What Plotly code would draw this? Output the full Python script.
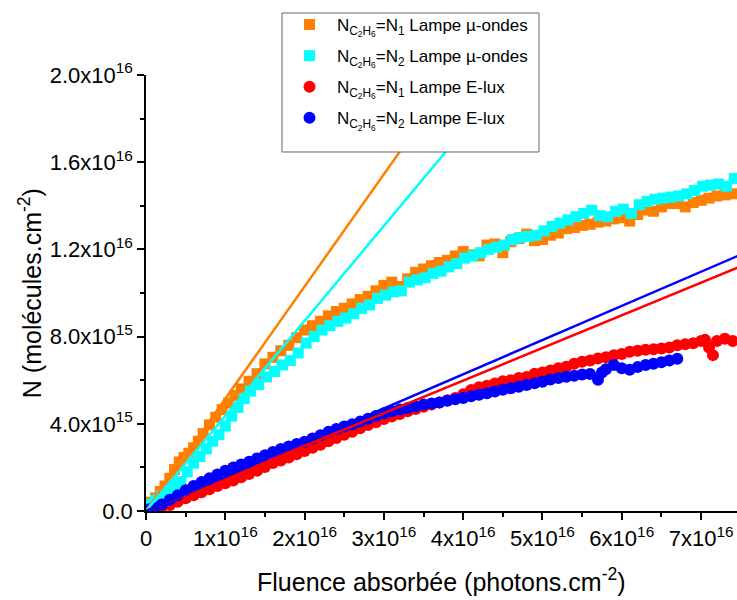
import plotly.graph_objects as go

X_UNIT = 1e16
Y_UNIT = 1e15

# Lampe micro-ondes, N_C2H6 = N1 (orange squares)
mw_n1_x = [0.00, 0.06, 0.12, 0.18, 0.24, 0.30, 0.36, 0.42, 0.48, 0.54, 0.60, 0.66, 0.72, 0.80, 0.88,
           0.96, 1.04, 1.12, 1.20, 1.30, 1.40, 1.50, 1.60, 1.70, 1.80, 1.90, 2.00, 2.10, 2.20, 2.30,
           2.40, 2.50, 2.60, 2.70, 2.80, 2.90, 3.00, 3.10, 3.20, 3.30, 3.40, 3.50, 3.60, 3.70, 3.80,
           3.90, 4.00, 4.10, 4.20, 4.30, 4.40, 4.50, 4.60, 4.70, 4.80, 4.90, 5.00, 5.10, 5.20, 5.30,
           5.40, 5.50, 5.60, 5.70, 5.80, 5.90, 6.00, 6.10, 6.20, 6.30, 6.40, 6.50, 6.60, 6.70, 6.80,
           6.90, 7.00, 7.10, 7.20, 7.30, 7.40]
mw_n1_y = [0.15, 0.40, 0.60, 0.90, 1.15, 1.50, 1.90, 2.25, 2.45, 2.65, 2.90, 3.20, 3.55, 3.95, 4.30,
           4.65, 4.95, 5.30, 5.60, 5.95, 6.30, 6.75, 7.05, 7.35, 7.60, 7.95, 8.30, 8.50, 8.70, 8.95,
           9.15, 9.30, 9.50, 9.70, 9.85, 10.10, 10.35, 10.50, 10.30, 10.65, 10.95, 11.10, 11.25, 11.40, 11.50,
           11.70, 11.90, 11.75, 11.70, 12.20, 12.25, 11.85, 12.35, 12.50, 12.70, 12.40, 12.45, 12.65, 12.75, 12.95,
           13.00, 13.10, 13.15, 13.25, 13.30, 13.40, 13.45, 13.30, 13.60, 13.80, 13.75, 13.95, 14.10, 14.10, 13.95,
           14.15, 14.25, 14.35, 14.45, 14.50, 14.55]

# Lampe micro-ondes, N_C2H6 = N2 (cyan squares)
mw_n2_x = [0.00, 0.06, 0.12, 0.20, 0.28, 0.36, 0.44, 0.52, 0.60, 0.68, 0.76, 0.84, 0.92, 1.00, 1.08,
           1.16, 1.24, 1.32, 1.42, 1.52, 1.62, 1.72, 1.82, 1.92, 2.02, 2.12, 2.22, 2.32, 2.42, 2.52,
           2.62, 2.72, 2.82, 2.92, 3.02, 3.12, 3.22, 3.32, 3.42, 3.52, 3.62, 3.72, 3.82, 3.92, 4.02,
           4.12, 4.22, 4.32, 4.42, 4.52, 4.62, 4.72, 4.82, 4.92, 5.02, 5.12, 5.22, 5.32, 5.42, 5.52,
           5.62, 5.72, 5.82, 5.92, 6.02, 6.12, 6.22, 6.32, 6.42, 6.52, 6.62, 6.72, 6.82, 6.92, 7.02,
           7.12, 7.22, 7.32, 7.42]
mw_n2_y = [0.10, 0.30, 0.50, 0.70, 0.95, 1.20, 1.35, 1.80, 2.20, 2.50, 2.85, 3.20, 3.50, 3.90, 4.35,
           4.75, 5.15, 5.50, 5.80, 6.15, 6.40, 6.70, 6.90, 7.25, 7.70, 8.00, 8.30, 8.50, 8.70, 8.85,
           9.05, 9.30, 9.45, 9.75, 9.90, 10.05, 10.10, 10.50, 10.60, 10.70, 10.90, 11.00, 11.20, 11.35, 11.60,
           11.70, 11.85, 12.00, 12.10, 12.20, 12.45, 12.55, 12.60, 12.65, 12.85, 13.05, 13.20, 13.35, 13.50, 13.65,
           13.80, 13.55, 13.50, 13.75, 13.85, 13.65, 14.05, 14.20, 14.30, 14.35, 14.40, 14.45, 14.55, 14.70, 14.90,
           14.95, 15.00, 14.90, 15.25]

# Lampe E-lux, N_C2H6 = N1 (red circles)
el_n1_x = [0.05, 0.10, 0.20, 0.30, 0.40, 0.50, 0.60, 0.70, 0.80, 0.90, 1.00, 1.10, 1.20, 1.30, 1.40,
           1.50, 1.60, 1.70, 1.80, 1.90, 2.00, 2.10, 2.20, 2.30, 2.40, 2.50, 2.60, 2.70, 2.80, 2.90,
           3.00, 3.10, 3.20, 3.30, 3.40, 3.50, 3.60, 3.70, 3.80, 3.90, 4.00, 4.10, 4.20, 4.30, 4.40,
           4.50, 4.60, 4.70, 4.80, 4.90, 5.00, 5.10, 5.20, 5.30, 5.40, 5.50, 5.60, 5.70, 5.80, 5.90,
           6.00, 6.10, 6.20, 6.30, 6.40, 6.50, 6.60, 6.70, 6.80, 6.90, 7.00, 7.05, 7.10, 7.15, 7.20,
           7.30, 7.40]
el_n1_y = [0.05, 0.10, 0.18, 0.28, 0.42, 0.58, 0.72, 0.86, 1.00, 1.15, 1.27, 1.40, 1.55, 1.70, 1.85,
           2.02, 2.20, 2.32, 2.45, 2.60, 2.75, 2.90, 3.04, 3.20, 3.35, 3.50, 3.64, 3.80, 3.94, 4.07,
           4.22, 4.33, 4.45, 4.57, 4.68, 4.78, 4.88, 4.98, 5.08, 5.18, 5.35, 5.55, 5.68, 5.75, 5.85,
           5.95, 6.00, 6.10, 6.15, 6.30, 6.35, 6.45, 6.55, 6.62, 6.75, 6.85, 6.90, 7.00, 7.05, 7.15,
           7.20, 7.30, 7.35, 7.40, 7.42, 7.45, 7.50, 7.60, 7.65, 7.70, 7.80, 7.85, 7.50, 7.15, 7.80,
           7.90, 7.80]

# Lampe E-lux, N_C2H6 = N2 (blue circles)
el_n2_x = [0.05, 0.10, 0.20, 0.30, 0.40, 0.50, 0.60, 0.70, 0.80, 0.90, 1.00, 1.10, 1.20, 1.30, 1.40,
           1.50, 1.60, 1.70, 1.80, 1.90, 2.00, 2.10, 2.20, 2.30, 2.40, 2.50, 2.60, 2.70, 2.80, 2.90,
           3.00, 3.10, 3.20, 3.30, 3.40, 3.50, 3.60, 3.70, 3.80, 3.90, 4.00, 4.10, 4.20, 4.30, 4.40,
           4.50, 4.60, 4.70, 4.80, 4.90, 5.00, 5.10, 5.20, 5.30, 5.40, 5.50, 5.60, 5.70, 5.75, 5.80,
           5.90, 6.00, 6.10, 6.20, 6.30, 6.40, 6.50, 6.60, 6.70]
el_n2_y = [0.08, 0.15, 0.30, 0.52, 0.72, 0.95, 1.15, 1.33, 1.50, 1.67, 1.85, 2.00, 2.13, 2.26, 2.41,
           2.56, 2.71, 2.84, 2.96, 3.07, 3.18, 3.33, 3.48, 3.63, 3.76, 3.88, 3.98, 4.10, 4.23, 4.36,
           4.48, 4.58, 4.66, 4.73, 4.80, 4.88, 4.93, 4.98, 5.06, 5.13, 5.18, 5.26, 5.33, 5.40, 5.48,
           5.56, 5.63, 5.70, 5.78, 5.86, 5.93, 6.03, 6.10, 6.16, 6.20, 6.26, 6.28, 6.02, 6.35, 6.50,
           6.70, 6.55, 6.48, 6.60, 6.70, 6.75, 6.82, 6.90, 6.98]

# Linear fits (N = slope * fluence)
fit_slopes = [0.515, 0.436, 0.1496, 0.1568]
fit_x_max = 7.5

series_names = [
    "N<sub>C<sub>2</sub>H<sub>6</sub></sub>=N<sub>1</sub> Lampe \u00b5-ondes",
    "N<sub>C<sub>2</sub>H<sub>6</sub></sub>=N<sub>2</sub> Lampe \u00b5-ondes",
    "N<sub>C<sub>2</sub>H<sub>6</sub></sub>=N<sub>1</sub> Lampe E-lux",
    "N<sub>C<sub>2</sub>H<sub>6</sub></sub>=N<sub>2</sub> Lampe E-lux",
]
series_colors = ["#FF8000", "#00FFFF", "#FF0000", "#0000FF"]
series_symbols = ["square", "square", "circle", "circle"]
series_sizes = [11, 11, 12, 12]

y_tick_vals = [0, 4e15, 8e15, 1.2e16, 1.6e16, 2.0e16]
y_tick_text = ["0.0", "4.0x10<sup>15</sup>", "8.0x10<sup>15</sup>", "1.2x10<sup>16</sup>",
               "1.6x10<sup>16</sup>", "2.0x10<sup>16</sup>"]
x_tick_vals = [0, 1e16, 2e16, 3e16, 4e16, 5e16, 6e16, 7e16]
x_tick_text = ["0"] + ["%dx10<sup>16</sup>" % i for i in range(1, 8)]

xs = [mw_n1_x, mw_n2_x, el_n1_x, el_n2_x]
ys = [mw_n1_y, mw_n2_y, el_n1_y, el_n2_y]

FONT = "Liberation Sans, Arial, sans-serif"

fig = go.Figure()
for i in range(4):
    fig.add_trace(go.Scatter(
        x=[v * X_UNIT for v in xs[i]], y=[v * Y_UNIT for v in ys[i]],
        mode="markers", name=series_names[i], legendgroup="g%d" % i,
        marker=dict(color=series_colors[i], symbol=series_symbols[i], size=series_sizes[i],
                    line=dict(width=0)),
    ))
for i in range(4):
    fx = [0, fit_x_max * X_UNIT]
    fy = [0, fit_slopes[i] * fit_x_max * X_UNIT]
    fig.add_trace(go.Scatter(x=fx, y=fy, mode="lines", showlegend=False,
                             line=dict(color=series_colors[i], width=2.5)))

# legend frame (pixel box 282..539 x 13..152 with plot area 146..737 x 75..511)
fig.add_shape(type="rect", xref="paper", yref="paper",
              x0=0.2301, x1=0.665, y0=0.8234, y1=1.1422,
              fillcolor="white", line=dict(color="#666666", width=1), layer="above")

fig.update_layout(
    width=737, height=600,
    margin=dict(l=146, r=0, t=75, b=89),
    paper_bgcolor="white", plot_bgcolor="white",
    font=dict(family=FONT, color="black", size=18),
    showlegend=True,
    legend=dict(x=0.2301, y=1.156, xanchor="left", yanchor="top",
                bgcolor="rgba(0,0,0,0)", borderwidth=0,
                font=dict(size=17, family=FONT), tracegroupgap=6, itemwidth=45,
                itemsizing="trace"),
    xaxis=dict(range=[0, 7.453e16], showgrid=False, zeroline=False,
               showline=True, linecolor="black", linewidth=1.5,
               ticks="outside", ticklen=7, tickwidth=1.5, tickcolor="black",
               tickmode="array", tickvals=x_tick_vals, ticktext=x_tick_text,
               tickfont=dict(size=22, family=FONT),
               minor=dict(tickmode="linear", tick0=0, dtick=5e15, ticks="outside",
                          ticklen=4, tickwidth=1.5, tickcolor="black")),
    yaxis=dict(range=[0, 2.0e16], showgrid=False, zeroline=False,
               showline=True, linecolor="black", linewidth=1.5,
               ticks="outside", ticklen=7, tickwidth=1.5, tickcolor="black",
               tickmode="array", tickvals=y_tick_vals, ticktext=y_tick_text,
               tickfont=dict(size=22, family=FONT),
               minor=dict(tickmode="linear", tick0=0, dtick=2e15, ticks="outside",
                          ticklen=4, tickwidth=1.5, tickcolor="black")),
    annotations=[
        dict(text="Fluence absorb\u00e9e (photons.cm<sup>-2</sup>)", xref="paper", yref="paper",
             x=0.5, y=-0.158, xanchor="center", yanchor="middle", showarrow=False,
             font=dict(size=25, family=FONT)),
        dict(text="N (mol\u00e9cules.cm<sup>-2</sup>)", xref="paper", yref="paper",
             x=-0.196, y=0.5, xanchor="center", yanchor="middle", showarrow=False,
             textangle=-90, font=dict(size=25, family=FONT)),
    ],
)

fig.write_html("out.html", config={"displayModeBar": False},
               post_script="document.body.style.margin='0';")
